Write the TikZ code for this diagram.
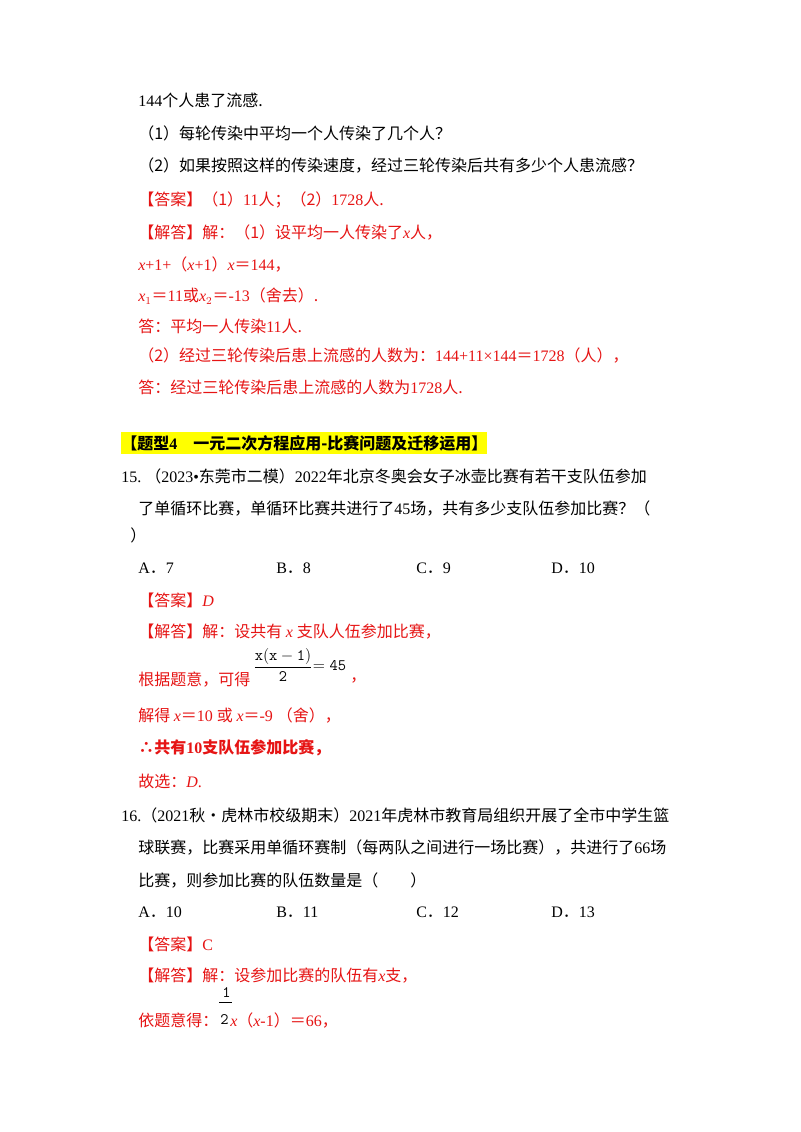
\documentclass[tikz,border=0pt]{standalone}
\usepackage{fontspec}
\newfontfamily\cjk{Noto Sans CJK SC}
\setmainfont{Liberation Serif}
\definecolor{ansred}{RGB}{230,20,20}
\definecolor{hlyellow}{RGB}{255,255,0}
\begin{document}
\begin{tikzpicture}[
        x=0.75pt, y=-0.75pt,
        every node/.style={font=\fontsize{12}{14}\selectfont, anchor=west, inner sep=0pt},
        ans/.style={text=ansred}
        ]
        \useasboundingbox[fill=white] (0,0) rectangle (800,1132);
        % first question
        \node (l1)  at (138,100) {144\cjk 个人患了流感.};
        \node (q1)  at (138,133) {\cjk（1）每轮传染中平均一个人传染了几个人？};
        \node (q2)  at (138,166) {\cjk（2）如果按照这样的传染速度，经过三轮传染后共有多少个人患流感？};
        \node[ans] (a1) at (138,200) {\cjk【答案】（1）\rmfamily 11\cjk 人；（2）\rmfamily 1728\cjk 人.};
        \node[ans] (s1) at (138,233) {\cjk【解答】解：（1）设平均一人传染了\rmfamily\itshape x\cjk\upshape 人，};
        \node[ans] (s2) at (138,265) {\itshape x\upshape+1+\cjk（\rmfamily\itshape x\upshape+1\cjk）\rmfamily\itshape x\upshape\cjk＝\rmfamily 144\cjk，};
        \node[ans] (s3) at (138,296) {\itshape x\upshape$_1$\cjk＝\rmfamily 11\cjk 或\rmfamily\itshape x\upshape$_2$\cjk＝\rmfamily -13\cjk（舍去）.};
        \node[ans] (s4) at (138,326) {\cjk 答：平均一人传染\rmfamily 11\cjk 人.};
        \node[ans] (s5) at (138,356) {\cjk（2）经过三轮传染后患上流感的人数为：\rmfamily 144+11×144\cjk＝\rmfamily 1728\cjk（人），};
        \node[ans] (s6) at (138,387) {\cjk 答：经过三轮传染后患上流感的人数为\rmfamily 1728\cjk 人.};
        % type 4 heading
        \node[fill=hlyellow, inner ysep=2pt] (head) at (121,443) {\bfseries\cjk【题型\rmfamily 4\quad\cjk 一元二次方程应用-比赛问题及迁移运用】};
        % question 15
        \node (p15a) at (121,476) {15.\ \cjk（\rmfamily 2023•\cjk 东莞市二模）\rmfamily 2022\cjk 年北京冬奥会女子冰壶比赛有若干支队伍参加};
        \node (p15b) at (138,508) {\cjk 了单循环比赛，单循环比赛共进行了\rmfamily 45\cjk 场，共有多少支队伍参加比赛？（};
        \node (p15c) at (130,535) {\cjk ）};
        \node (o15a) at (138,568) {A\cjk．\rmfamily 7};
        \node (o15b) at (276,568) {B\cjk．\rmfamily 8};
        \node (o15c) at (416,568) {C\cjk．\rmfamily 9};
        \node (o15d) at (551,568) {D\cjk．\rmfamily 10};
        \node[ans] (a15) at (138,600) {\cjk【答案】\rmfamily\itshape D};
        \node[ans] (s15a) at (138,632) {\cjk【解答】解：设共有\ \rmfamily\itshape x\ \cjk\upshape 支队人伍参加比赛，};
        \node[ans] (s15b) at (138,680) {\cjk 根据题意，可得};
        \node (frac15) at (253,665) {$\displaystyle\frac{\mathtt{x(x-1)}}{\mathtt{2}}\mathtt{=45}$};
        \node[ans] (s15c) at (350,680) {\cjk，};
        \node[ans] (s15d) at (138,715) {\cjk 解得\ \rmfamily\itshape x\upshape\cjk＝\rmfamily 10\ \cjk 或\ \rmfamily\itshape x\upshape\cjk＝\rmfamily -9\ \cjk（舍），};
        \node[ans] (s15e) at (138,748) {\bfseries\cjk ∴共有\rmfamily 10\cjk 支队伍参加比赛，};
        \node[ans] (s15f) at (138,781) {\cjk 故选：\rmfamily\itshape D\upshape.};
        % question 16
        \node (p16a) at (121,815) {16.\cjk（\rmfamily 2021\cjk 秋•虎林市校级期末）\rmfamily 2021\cjk 年虎林市教育局组织开展了全市中学生篮};
        \node (p16b) at (138,847) {\cjk 球联赛，比赛采用单循环赛制（每两队之间进行一场比赛），共进行了\rmfamily 66\cjk 场};
        \node (p16c) at (138,880) {\cjk 比赛，则参加比赛的队伍数量是（\qquad ）};
        \node (o16a) at (138,912) {A\cjk．\rmfamily 10};
        \node (o16b) at (276,912) {B\cjk．\rmfamily 11};
        \node (o16c) at (416,912) {C\cjk．\rmfamily 12};
        \node (o16d) at (551,912) {D\cjk．\rmfamily 13};
        \node[ans] (a16) at (138,944) {\cjk【答案】\rmfamily C};
        \node[ans] (s16a) at (138,976) {\cjk【解答】解：设参加比赛的队伍有\rmfamily\itshape x\upshape\cjk 支，};
        \node (half1) at (222,993) {$\mathtt{1}$};
        \node (half2) at (220,1020) {$\mathtt{2}$};
        \draw (half1.south west) ++(-3,4) -- ++(13,0);
        \node[ans] (s16b) at (138,1020) {\cjk 依题意得：\hspace{9pt}\rmfamily\itshape x\upshape\cjk（\rmfamily\itshape x\upshape -1\cjk）＝\rmfamily 66\cjk，};
\end{tikzpicture}
\end{document}
